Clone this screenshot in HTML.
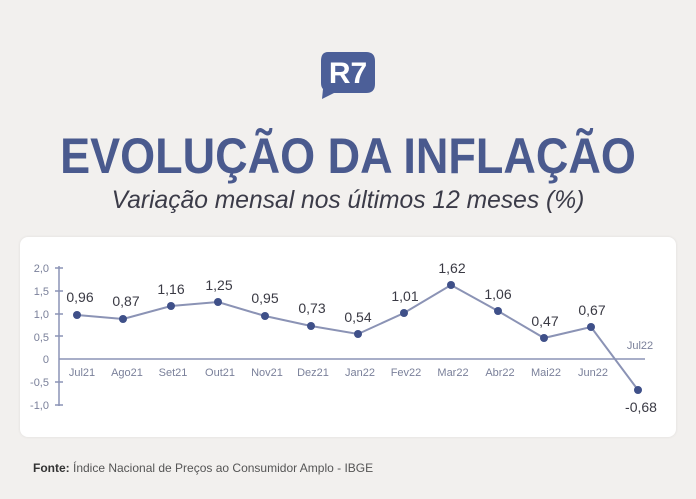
<!DOCTYPE html>
<html><head><meta charset="utf-8"><style>
body{margin:0;width:696px;height:499px;background:#f2f0ee;font-family:"Liberation Sans",sans-serif;position:relative;overflow:hidden}
.t{position:absolute;left:0;width:696px;text-align:center}
</style></head><body>
<svg style="position:absolute;left:320px;top:51px" width="56" height="48" viewBox="0 0 56 48">
<path d="M8 1 H46 Q55 1 55 10 V33 Q55 42 46 42 H14 L2 48 L3 38 Q1 36 1 32 V10 Q1 1 8 1Z" fill="#4c5f98"/>
<text x="28" y="32" font-family="Liberation Sans" font-weight="bold" font-size="30" fill="#fff" text-anchor="middle">R7</text>
</svg>
<div class="t" style="top:127px;font-size:50px;font-weight:bold;color:#4a5a8e;transform:scaleX(0.9);transform-origin:348px 0">EVOLUÇÃO DA INFLAÇÃO</div>
<div class="t" style="top:186px;font-size:25px;font-style:italic;color:#3b3b48;transform:scaleX(0.985);transform-origin:348px 0">Variação mensal nos últimos 12 meses (%)</div>
<div style="position:absolute;left:20px;top:237px;width:656px;height:200px;background:#fff;border-radius:8px;box-shadow:0 0 3px rgba(0,0,0,.08)"></div>
<svg style="position:absolute;left:0;top:0" width="696" height="499" font-family="Liberation Sans">
<g stroke="#8b93b5" stroke-width="1.5">
<line x1="59" y1="266" x2="59" y2="406"/>
<line x1="59" y1="359" x2="645" y2="359"/>
<line x1="55" y1="268" x2="63" y2="268"/><line x1="55" y1="291" x2="63" y2="291"/><line x1="55" y1="314" x2="63" y2="314"/><line x1="55" y1="336" x2="63" y2="336"/><line x1="55" y1="382" x2="63" y2="382"/><line x1="55" y1="405" x2="63" y2="405"/>
</g>
<g fill="#7a809a" font-size="11" text-anchor="end">
<text x="49" y="272">2,0</text><text x="49" y="295">1,5</text><text x="49" y="318">1,0</text><text x="49" y="341">0,5</text><text x="49" y="363">0</text><text x="49" y="386">-0,5</text><text x="49" y="409">-1,0</text>
</g>
<polyline fill="none" stroke="#8b93b5" stroke-width="2" points="77,315 123,319 171,306 218,302 265,316 311,326 358,334 404,313 451,285 498,311 544,338 591,327 638,390"/>
<g fill="#3f5089">
<circle cx="77" cy="315" r="4"/><circle cx="123" cy="319" r="4"/><circle cx="171" cy="306" r="4"/><circle cx="218" cy="302" r="4"/><circle cx="265" cy="316" r="4"/><circle cx="311" cy="326" r="4"/><circle cx="358" cy="334" r="4"/><circle cx="404" cy="313" r="4"/><circle cx="451" cy="285" r="4"/><circle cx="498" cy="311" r="4"/><circle cx="544" cy="338" r="4"/><circle cx="591" cy="327" r="4"/><circle cx="638" cy="390" r="4"/>
</g>
<g fill="#3a3a44" font-size="14" text-anchor="middle">
<text x="80" y="302">0,96</text><text x="126" y="306">0,87</text><text x="171" y="294">1,16</text><text x="219" y="290">1,25</text><text x="265" y="303">0,95</text><text x="312" y="313">0,73</text><text x="358" y="322">0,54</text><text x="405" y="301">1,01</text><text x="452" y="273">1,62</text><text x="498" y="299">1,06</text><text x="545" y="326">0,47</text><text x="592" y="315">0,67</text><text x="641" y="412">-0,68</text>
</g>
<g fill="#7a809a" font-size="11" text-anchor="middle">
<text x="82" y="376">Jul21</text><text x="127" y="376">Ago21</text><text x="173" y="376">Set21</text><text x="220" y="376">Out21</text><text x="267" y="376">Nov21</text><text x="313" y="376">Dez21</text><text x="360" y="376">Jan22</text><text x="406" y="376">Fev22</text><text x="453" y="376">Mar22</text><text x="500" y="376">Abr22</text><text x="546" y="376">Mai22</text><text x="593" y="376">Jun22</text><text x="640" y="349">Jul22</text>
</g>
<text x="33" y="472" font-size="12" fill="#555"><tspan font-weight="bold" fill="#333">Fonte:</tspan> Índice Nacional de Preços ao Consumidor Amplo - IBGE</text>
</svg>
</body></html>
